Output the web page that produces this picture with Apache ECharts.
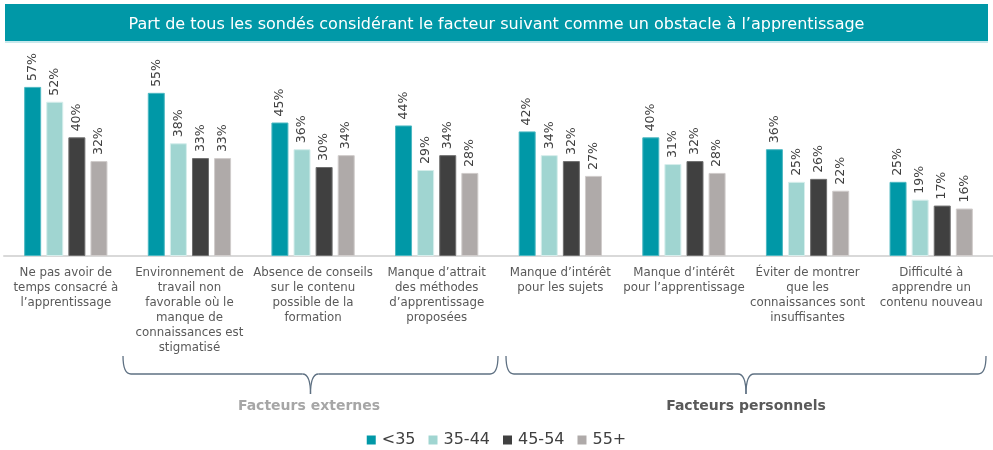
<!DOCTYPE html>
<html>
  <head>
    <meta charset="utf-8" />
    <title>Obstacles à l'apprentissage</title>
    <script src="https://cdn.jsdelivr.net/npm/echarts@6.0.0/dist/echarts.min.js"></script>
    <style>
      html, body { margin: 0; padding: 0; background: #fff; }
    </style>
  </head>
  <body>
    <div id="chart" style="width: 993px;height:450px;"></div>
    <script type="text/javascript">

      // catégories (axe x)
      var categories = [
        'Ne pas avoir de\ntemps consacré à\nl’apprentissage',
        'Environnement de\ntravail non\nfavorable où le\nmanque de\nconnaissances est\nstigmatisé',
        'Absence de conseils\nsur le contenu\npossible de la\nformation',
        'Manque d’attrait\ndes méthodes\nd’apprentissage\nproposées',
        'Manque d’intérêt\npour les sujets',
        'Manque d’intérêt\npour l’apprentissage',
        'Éviter de montrer\nque les\nconnaissances sont\ninsuffisantes',
        'Difficulté à\napprendre un\ncontenu nouveau'
      ];

      // valeurs par tranche d'âge (%)
      var ageMoins35 = [57, 55, 45, 44, 42, 40, 36, 25];
      var age35_44 = [52, 38, 36, 29, 34, 31, 25, 19];
      var age45_54 = [40, 33, 30, 34, 32, 32, 26, 17];
      var age55plus = [32, 33, 34, 28, 27, 28, 22, 16];

      var chart = echarts.init(document.getElementById('chart'));

      var font = 'DejaVu Sans, Verdana, sans-serif';

      function serie(name, data, color, border) {
        return {
          name: name,
          type: 'bar',
          data: data,
          barWidth: 17,
          barGap: '30%',
          itemStyle: { color: color, borderColor: border, borderWidth: 1 },
          label: {
            show: true,
            position: 'top',
            rotate: 90,
            align: 'left',
            verticalAlign: 'middle',
            distance: 6,
            formatter: '{c}%',
            color: '#404040',
            fontFamily: font,
            fontSize: 12.5
          }
        };
      }

      // accolade sous un groupe de catégories (courbes + lignes)
      function accolade(x0, x1, y, color) {
        var xm = (x0 + x1) / 2;
        var y1 = y + 18;
        var st = { stroke: color, lineWidth: 1.3, fill: 'none' };
        function courbe(ax, ay, cx, cy, bx, by) {
          return { type: 'bezierCurve', shape: { x1: ax, y1: ay, cpx1: cx, cpy1: cy, x2: bx, y2: by }, style: st };
        }
        function ligne(ax, bx) {
          return { type: 'line', shape: { x1: ax, y1: y1, x2: bx, y2: y1 }, style: st };
        }
        return [
          courbe(x0, y, x0, y1, x0 + 8, y1),
          ligne(x0 + 8, xm - 8),
          courbe(xm - 8, y1, xm, y1, xm, y1 + 20),
          courbe(xm + 8, y1, xm, y1, xm, y1 + 20),
          ligne(xm + 8, x1 - 8),
          courbe(x1, y, x1, y1, x1 - 8, y1)
        ];
      }

      var graphics = [
        {
          type: 'rect',
          z: -1,
          shape: { x: 5, y: 4, width: 983, height: 37 },
          style: { fill: '#0098A7' }
        },
        {
          type: 'rect',
          z: -1,
          shape: { x: 5, y: 41, width: 983, height: 2 },
          style: { fill: '#C8E8EC' }
        },
        {
          type: 'text',
          style: {
            text: 'Facteurs externes', x: 309, y: 406, align: 'center', verticalAlign: 'middle',
            fill: '#A6A6A6', font: 'bold 14px ' + font
          }
        },
        {
          type: 'text',
          style: {
            text: 'Facteurs personnels', x: 746, y: 406, align: 'center', verticalAlign: 'middle',
            fill: '#595959', font: 'bold 14px ' + font
          }
        }
      ].concat(accolade(123, 498, 356, '#5E7082'), accolade(506, 986, 356, '#5E7082'));

      var option = {
        animation: false,
        title: {
          text: 'Part de tous les sondés considérant le facteur suivant comme un obstacle à l’apprentissage',
          left: 'center',
          top: 12,
          textStyle: { color: '#fff', fontFamily: font, fontSize: 16, fontWeight: 'normal' }
        },
        graphic: graphics,
        legend: {
          top: 427,
          left: 'center',
          icon: 'rect',
          itemWidth: 9,
          itemHeight: 9,
          itemGap: 13,
          itemStyle: { borderWidth: 0 },
          textStyle: { color: '#404040', fontFamily: font, fontSize: 16, padding: [0, 0, 0, 1] },
          data: ['<35', '35-44', '45-54', '55+']
        },
        grid: {
          left: 4,
          width: 992,
          top: 78,
          height: 178,
          containLabel: false
        },
        xAxis: {
          type: 'category',
          data: categories,
          axisLine: { lineStyle: { color: '#D9D9D9', width: 2 } },
          axisTick: { show: false },
          axisLabel: {
            interval: 0,
            margin: 9,
            color: '#595959',
            fontFamily: font,
            fontSize: 11.8,
            lineHeight: 15
          }
        },
        yAxis: {
          type: 'value',
          min: 0,
          max: 60,
          show: false
        },
        series: [
          serie('<35', ageMoins35, '#0098A7', '#4DB8C2'),
          serie('35-44', age35_44, '#A0D5D1', '#D6EEEC'),
          serie('45-54', age45_54, '#404040', '#707070'),
          serie('55+', age55plus, '#AFAAA9', '#D0CCCB')
        ]
      };
      chart.setOption(option);
    </script>
  </body>
</html>
